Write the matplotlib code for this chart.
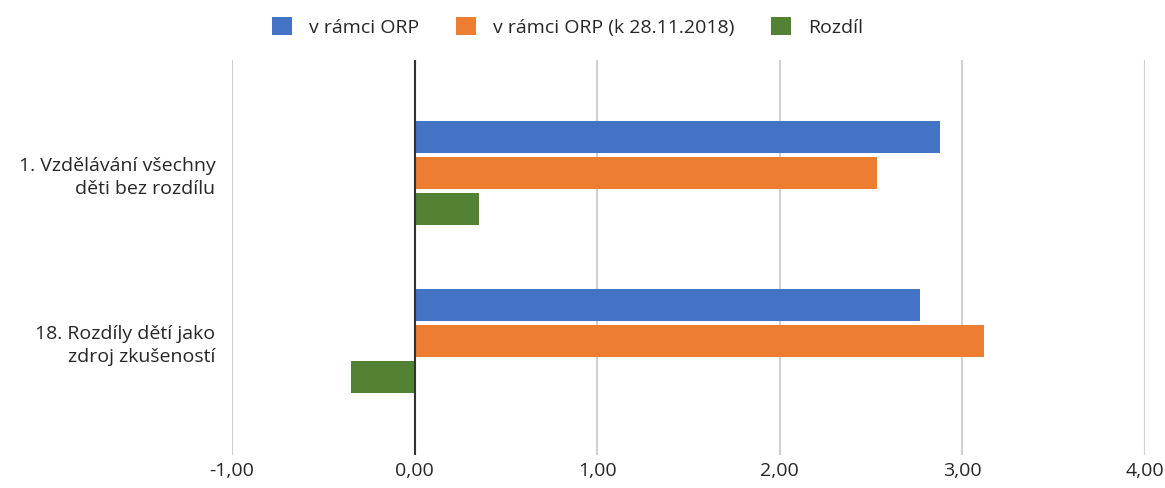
import matplotlib.pyplot as plt
import numpy as np
from matplotlib.patches import Patch
from matplotlib.ticker import FuncFormatter

plt.rcParams["font.family"] = ["Open Sans", "DejaVu Sans"]
plt.rcParams["font.size"] = 14

categories = ["1. Vzdělávání všechny\nděti bez rozdílu", "18. Rozdíly dětí jako\nzdroj zkušeností"]
series_names = ["v rámci ORP", "v rámci ORP (k 28.11.2018)", "Rozdíl"]
orp = [2.88, 2.77]
orp_2018 = [2.53, 3.12]
rozdil = [0.35, -0.35]
colors = ["#4472C4", "#ED7D31", "#548235"]

fig = plt.figure(figsize=(11.65, 4.88), dpi=100)
ax = fig.add_axes([232 / 1165, 1 - 455 / 488, (1145 - 232) / 1165, (455 - 60) / 488])

y = np.arange(len(categories))
h = 0.19
step = 0.214
for i, (vals, c) in enumerate(zip([orp, orp_2018, rozdil], colors)):
    ax.barh(y + (i - 1) * step, vals, height=h, color=c, label=series_names[i], zorder=3)

ax.set_xlim(-1, 4)
ax.set_ylim(1.68, -0.67)
ax.set_xticks(np.arange(-1, 5, 1))
ax.xaxis.set_major_formatter(FuncFormatter(lambda v, p: f"{v:.2f}".replace(".", ",")))
ax.set_yticks(y)
ax.set_yticklabels(categories, linespacing=1.35)
ax.tick_params(axis="both", length=0, labelcolor="#262626", labelsize=14)
ax.tick_params(axis="x", pad=5)
ax.tick_params(axis="y", pad=12)
ax.grid(axis="x", color="#d0d0d0", linewidth=1.5, zorder=0)
ax.axvline(0, color="#333333", linewidth=1.5, zorder=4)
for s in ax.spines.values():
    s.set_visible(False)

handles = [Patch(facecolor=c, label=n) for c, n in zip(colors, series_names)]
fig.legend(handles=handles, loc="center", bbox_to_anchor=(0.487, 1 - 27 / 488), ncol=3,
           frameon=False, handlelength=1.05, handleheight=1.05, columnspacing=1.9, handletextpad=0.85,
           labelcolor="#262626", fontsize=14)

fig.savefig("out.png", dpi=100)
